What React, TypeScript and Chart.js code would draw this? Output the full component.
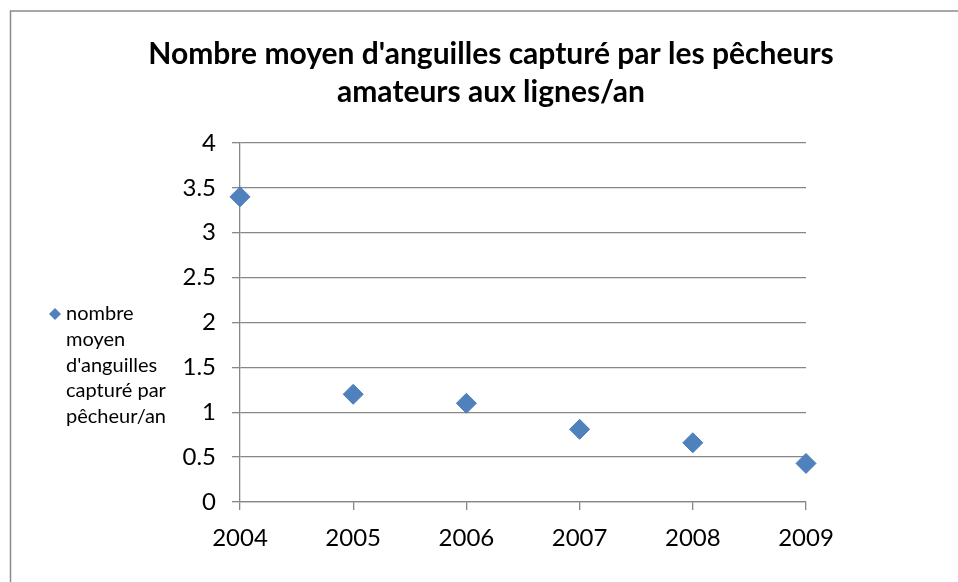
import React, { useEffect, useRef } from "react";
import { Chart, registerables } from "chart.js";

Chart.register(...registerables);

const years = [2004, 2005, 2006, 2007, 2008, 2009];
const values = [3.4, 1.2, 1.1, 0.81, 0.66, 0.43];
const titleLines = ["Nombre moyen d'anguilles capturé par les pêcheurs", "amateurs aux lignes/an"];
const legendLines = ["nombre", "moyen", "d'anguilles", "capturé par", "pêcheur/an"];
const yMin = 0;
const yMax = 4;
const yStep = 0.5;

const FONT = "Lato, 'Open Sans', sans-serif";
const BLUE = "#4F81BD";
const GRID = "#878787";

const decorPlugin = {
  id: "decor",
  beforeDraw(chart: any) {
    const ctx = chart.ctx;
    ctx.save();
    ctx.fillStyle = "#ffffff";
    ctx.fillRect(0, 0, chart.width, chart.height);
    ctx.strokeStyle = "#8a8a8a";
    ctx.lineWidth = 1.5;
    ctx.strokeRect(10.5, 11, chart.width + 20, chart.height + 20);
    ctx.restore();
  },
  afterDraw(chart: any) {
    const ctx = chart.ctx;
    ctx.save();
    // title
    ctx.fillStyle = "#000000";
    ctx.font = `bold 30px ${FONT}`;
    ctx.textAlign = "center";
    ctx.textBaseline = "alphabetic";
    titleLines.forEach((t, i) => ctx.fillText(t, 491, 64 + i * 38));
    // legend
    const lx = 55, ly = 314, r = 6;
    ctx.fillStyle = BLUE;
    ctx.beginPath();
    ctx.moveTo(lx, ly - r);
    ctx.lineTo(lx + r, ly);
    ctx.lineTo(lx, ly + r);
    ctx.lineTo(lx - r, ly);
    ctx.closePath();
    ctx.fill();
    ctx.fillStyle = "#000000";
    ctx.font = `20px ${FONT}`;
    ctx.textAlign = "left";
    legendLines.forEach((t, i) => ctx.fillText(t, 66, 320 + i * 25.8));
    ctx.restore();
  },
};

export default function App() {
  const ref = useRef<HTMLCanvasElement>(null);
  useEffect(() => {
    if (!ref.current) return;
    const chart = new Chart(ref.current, {
      type: "scatter",
      data: {
        datasets: [
          {
            label: legendLines.join(" "),
            data: years.map((x, i) => ({ x, y: values[i] })),
            pointStyle: "rectRot",
            pointRadius: 10,
            pointHoverRadius: 10,
            backgroundColor: BLUE,
            borderColor: "#4A7EBB",
            borderWidth: 1,
            showLine: false,
            clip: false,
          } as any,
        ],
      },
      options: {
        responsive: false,
        animation: false,
        layout: { padding: { left: 180, right: 152, top: 143, bottom: 20 } },
        plugins: { legend: { display: false }, title: { display: false }, tooltip: { enabled: false } },
        scales: {
          x: {
            type: "linear",
            min: years[0],
            max: years[years.length - 1],
            afterFit: (s: any) => { s.height = 60; },
            grid: { drawOnChartArea: false, drawTicks: true, tickLength: 8, color: GRID, lineWidth: 1.3 },
            border: { display: true, color: GRID, width: 1.3 },
            ticks: {
              stepSize: 1,
              padding: 14,
              color: "#000000",
              font: { family: FONT, size: 24 },
              callback: (v: any) => String(v),
            },
          },
          y: {
            min: yMin,
            max: yMax,
            afterFit: (s: any) => { s.width = 60; },
            grid: { color: GRID, tickLength: 8, lineWidth: 1.3 },
            border: { display: true, color: GRID, width: 1.3 },
            ticks: {
              stepSize: yStep,
              padding: 16,
              color: "#000000",
              font: { family: FONT, size: 24 },
              callback: (v: any) => String(v),
            },
          },
        },
      },
      plugins: [decorPlugin],
    });
    return () => chart.destroy();
  }, []);
  return (
    <div style={{ position: "fixed", left: 0, top: 0, width: 958, height: 582, background: "#fff" }}>
      <canvas ref={ref} width={958} height={582} style={{ display: "block" }} />
    </div>
  );
}
